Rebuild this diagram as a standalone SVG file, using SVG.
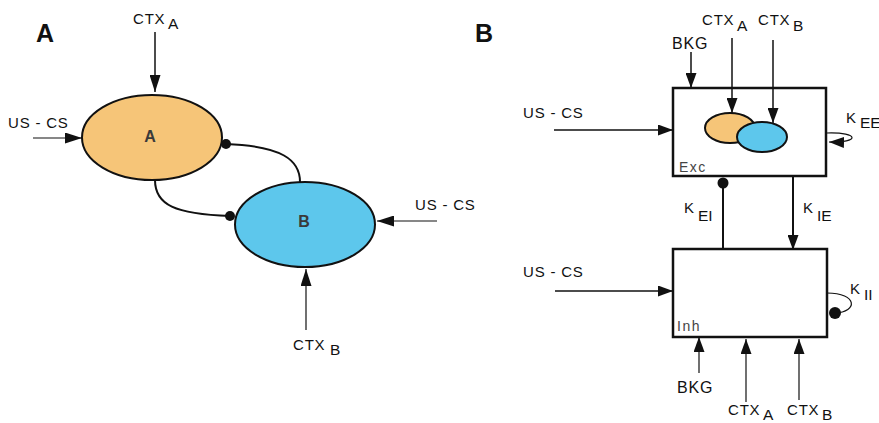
<svg xmlns="http://www.w3.org/2000/svg" width="879" height="423" viewBox="0 0 879 423">
<defs>
<marker id="arr" markerUnits="userSpaceOnUse" markerWidth="17" markerHeight="11" refX="17" refY="5.5" orient="auto">
<path d="M0,0 L17,5.5 L0,11 z" fill="#111"/>
</marker>
<marker id="arrs" markerUnits="userSpaceOnUse" markerWidth="15" markerHeight="11" refX="15" refY="5.5" orient="auto">
<path d="M0,0 L15,5.5 L0,11 z" fill="#111"/>
</marker>
</defs>
<style>
text{font-family:"Liberation Sans",Arial,sans-serif;fill:#111;}
.lbl{font-size:15px;letter-spacing:0.8px;}
.sub{font-size:15.5px;}
.panel{font-size:25px;font-weight:bold;}
.nl{font-size:16px;font-weight:bold;fill:#3a3a3a;text-anchor:middle;}
.tag{font-size:14px;letter-spacing:1.5px;fill:#444;}
.ln{fill:none;stroke:#111;stroke-width:1.5;}
.thin{fill:none;stroke:#111;stroke-width:1.2;}
.cur{fill:none;stroke:#111;stroke-width:2;}
.box{fill:#fff;stroke:#111;stroke-width:2.5;}
.ea{fill:#F6C578;stroke:#111;stroke-width:2;}
.eb{fill:#5DC7EC;stroke:#111;stroke-width:2;}
.dot{fill:#111;}
</style>
<rect width="879" height="423" fill="#fff"/>
<text class="panel" x="36" y="42">A</text>
<text class="panel" x="475" y="42">B</text>
<g id="nodeA">
<ellipse class="ea" cx="152" cy="137.5" rx="70" ry="42.5"/>
<text class="nl" x="150" y="142">A</text>
</g>
<g id="nodeB">
<ellipse class="eb" cx="305" cy="224.5" rx="70" ry="42.5"/>
<text class="nl" x="304" y="227">B</text>
</g>
<g id="exc">
<rect class="box" x="673" y="88" width="153" height="88"/>
<ellipse class="ea" cx="730" cy="128" rx="25" ry="15"/>
<ellipse class="eb" cx="762" cy="137" rx="25" ry="15"/>
<text class="tag" x="679" y="172">Exc</text>
</g>
<g id="inh">
<rect class="box" x="673" y="249" width="154" height="88"/>
<text class="tag" x="677" y="331">Inh</text>
</g>
<g id="connectors">
<line class="ln" x1="155" y1="32" x2="155" y2="92" marker-end="url(#arr)"/>
<line class="thin" x1="33" y1="138" x2="82" y2="138" marker-end="url(#arr)"/>
<line class="thin" x1="437" y1="221" x2="377" y2="221" marker-end="url(#arr)"/>
<line class="thin" x1="306" y1="330" x2="306" y2="269" marker-end="url(#arr)"/>
<path class="cur" d="M300 182 C300 160 282 146 226 144"/>
<circle class="dot" cx="226" cy="144" r="5"/>
<path class="cur" d="M155 180 C155 205 175 214 230 216"/>
<circle class="dot" cx="230" cy="216" r="5"/>
<line class="ln" x1="691" y1="52" x2="691" y2="88" marker-end="url(#arrs)"/>
<line class="ln" x1="732" y1="38" x2="732" y2="113" marker-end="url(#arrs)"/>
<line class="ln" x1="773" y1="40" x2="773" y2="123" marker-end="url(#arrs)"/>
<line class="ln" x1="554" y1="130" x2="673" y2="130" marker-end="url(#arrs)"/>
<path class="thin" d="M827 133 C860 132 860 143 829 142" marker-end="url(#arrs)"/>
<line class="cur" x1="723" y1="249" x2="723" y2="183"/>
<circle class="dot" cx="723" cy="183" r="5.5"/>
<line class="cur" x1="793" y1="176" x2="793" y2="250" marker-end="url(#arrs)"/>
<line class="ln" x1="555" y1="291" x2="673" y2="291" marker-end="url(#arrs)"/>
<path class="thin" d="M827 293 C858 293 858 312 835 313"/>
<circle class="dot" cx="835" cy="313" r="6"/>
<line class="thin" x1="699" y1="373" x2="699" y2="337" marker-end="url(#arrs)"/>
<line class="thin" x1="746" y1="402" x2="746" y2="339" marker-end="url(#arrs)"/>
<line class="thin" x1="799" y1="400" x2="799" y2="339" marker-end="url(#arrs)"/>
</g>
<g id="labels">
<text class="lbl" x="133" y="24">CTX</text><text class="sub" x="168" y="29">A</text>
<text class="lbl" x="8" y="128">US - CS</text>
<text class="lbl" x="415" y="210">US - CS</text>
<text class="lbl" x="293" y="350">CTX</text><text class="sub" x="330" y="355">B</text>
<text class="lbl" x="672" y="49" style="font-size:16px">BKG</text>
<text class="lbl" x="702" y="25">CTX</text><text class="sub" x="737" y="31">A</text>
<text class="lbl" x="758" y="25">CTX</text><text class="sub" x="793" y="31">B</text>
<text class="lbl" x="523" y="118">US - CS</text>
<text class="lbl" x="846" y="123">K</text><text class="sub" x="860" y="128">EE</text>
<text class="lbl" x="684" y="213">K</text><text class="sub" x="698" y="221">EI</text>
<text class="lbl" x="803" y="213">K</text><text class="sub" x="817" y="221">IE</text>
<text class="lbl" x="523" y="277">US - CS</text>
<text class="lbl" x="850" y="294">K</text><text class="sub" x="864" y="300">II</text>
<text class="lbl" x="677" y="393" style="font-size:16px">BKG</text>
<text class="lbl" x="728" y="415">CTX</text><text class="sub" x="763" y="420">A</text>
<text class="lbl" x="787" y="415">CTX</text><text class="sub" x="822" y="420">B</text>
</g>
</svg>
